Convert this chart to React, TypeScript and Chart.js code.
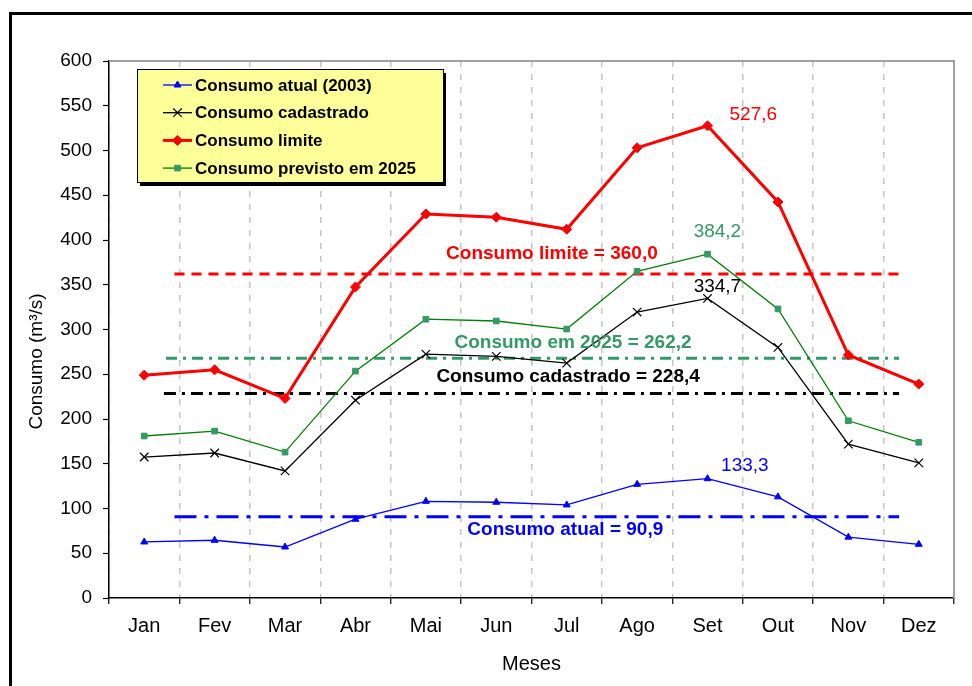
import React, { useEffect, useRef } from 'react';
import { Chart, registerables } from 'chart.js';
import { drawPoint } from 'chart.js/helpers';

Chart.register(...registerables);

// ---------- data ----------
const months = ['Jan', 'Fev', 'Mar', 'Abr', 'Mai', 'Jun', 'Jul', 'Ago', 'Set', 'Out', 'Nov', 'Dez'];
const consumoAtual = [62.6, 64.5, 57, 88, 108, 107, 104, 127, 133.3, 113, 68, 60];
const consumoCadastrado = [157.5, 162, 142, 221, 272.5, 270, 262.5, 319.5, 334.7, 280, 172, 151];
const consumoLimite = [249, 255, 223, 347.5, 429, 425.5, 412, 503, 527.6, 442.5, 271.5, 239];
const consumoPrevisto = [181, 186.5, 163, 253.5, 311.5, 309.5, 300.5, 365, 384.2, 323, 198, 174];

const seriesNames = ['Consumo atual (2003)', 'Consumo cadastrado', 'Consumo limite', 'Consumo previsto em 2025'];

// horizontal reference lines and their captions
const refLineValues = [362, 268, 228.4, 90.9];
const refLineCaptions = ['Consumo limite = 360,0', 'Consumo em 2025 = 262,2', 'Consumo cadastrado = 228,4', 'Consumo atual = 90,9'];

// peak value captions (September)
const peakCaptions = ['527,6', '384,2', '334,7', '133,3'];
const peakValues = [527.6, 384.2, 334.7, 133.3];

const yMin = 0;
const yMax = 600;
const yStep = 50;
const xTitle = 'Meses';
const yTitle = 'Consumo (m³/s)';

// ---------- styles / positions ----------
const FONT = "'Liberation Sans', Arial, Helvetica, sans-serif";
const refLineStyles = [
  { color: '#FF0000', dash: [10, 7], width: 3, from: 0.43, to: 10.72 },
  { color: '#339966', dash: [11, 6, 3, 6], width: 3, from: 0.31, to: 10.72 },
  { color: '#000000', dash: [12, 6, 3, 6], width: 3, from: 0.28, to: 10.72 },
  { color: '#0000FF', dash: [22, 8, 4, 8], width: 3, from: 0.43, to: 10.72 },
];
const refCaptionPos = [
  { x: 5.79, y: 385 },
  { x: 6.09, y: 285 },
  { x: 6.02, y: 247 },
  { x: 5.98, y: 76 },
];
const peakCaptionStyle = [
  { color: '#FF0000', x: 8.65, dy: 12 },
  { color: '#339966', x: 8.14, dy: 25 },
  { color: '#000000', x: 8.14, dy: 13 },
  { color: '#0000FF', x: 8.53, dy: 15 },
];

const framePlugin = {
  id: 'framePlugin',
  beforeDraw(chart: any) {
    const ctx = chart.ctx;
    ctx.save();
    ctx.fillStyle = '#fff';
    ctx.fillRect(0, 0, chart.width, chart.height);
    ctx.strokeStyle = '#000';
    ctx.lineWidth = 3;
    ctx.beginPath();
    ctx.moveTo(10.5, chart.height + 10);
    ctx.lineTo(10.5, 13.5);
    ctx.lineTo(chart.width + 10, 13.5);
    ctx.stroke();
    ctx.restore();
  },
  beforeDatasetsDraw(chart: any) {
    const { ctx, chartArea: a } = chart;
    ctx.save();
    ctx.strokeStyle = '#a0a0a0';
    ctx.lineWidth = 2;
    ctx.beginPath();
    ctx.moveTo(a.left, a.top);
    ctx.lineTo(a.right, a.top);
    ctx.lineTo(a.right, a.bottom);
    ctx.stroke();
    ctx.restore();
  },
  afterDraw(chart: any) {
    const { ctx, chartArea: a } = chart;
    ctx.save();
    ctx.translate(37, (a.top + a.bottom) / 2 + 32);
    ctx.rotate(-Math.PI / 2);
    ctx.font = `19px ${FONT}`;
    ctx.fillStyle = '#000';
    ctx.textAlign = 'center';
    ctx.textBaseline = 'middle';
    ctx.fillText(yTitle, 0, 0);
    ctx.restore();
  },
};

const refPlugin = {
  id: 'refPlugin',
  beforeDatasetsDraw(chart: any) {
    const { ctx, scales } = chart;
    const xs = scales.x;
    const ys = scales.y;
    ctx.save();
    refLineValues.forEach((v, i) => {
      const st = refLineStyles[i];
      const y = ys.getPixelForValue(v);
      ctx.strokeStyle = st.color;
      ctx.lineWidth = st.width;
      ctx.setLineDash(st.dash);
      ctx.beginPath();
      ctx.moveTo(xs.getPixelForValue(st.from), y);
      ctx.lineTo(xs.getPixelForValue(st.to), y);
      ctx.stroke();
    });
    ctx.restore();
  },
  afterDatasetsDraw(chart: any) {
    const { ctx, scales } = chart;
    const xs = scales.x;
    const ys = scales.y;
    ctx.save();
    ctx.textAlign = 'center';
    ctx.textBaseline = 'middle';
    ctx.font = `bold 19px ${FONT}`;
    refLineCaptions.forEach((t, i) => {
      const p = refCaptionPos[i];
      ctx.fillStyle = refLineStyles[i].color;
      ctx.fillText(t, xs.getPixelForValue(p.x), ys.getPixelForValue(p.y));
    });
    ctx.font = `19px ${FONT}`;
    peakCaptions.forEach((t, i) => {
      const st = peakCaptionStyle[i];
      ctx.fillStyle = st.color;
      ctx.fillText(t, xs.getPixelForValue(st.x), ys.getPixelForValue(peakValues[i] + st.dy));
    });
    ctx.restore();
  },
};

const legendPlugin = {
  id: 'boxLegend',
  afterDraw(chart: any) {
    const ctx = chart.ctx;
    const bx = 137, by = 69, bw = 306, bh = 113;
    ctx.save();
    ctx.fillStyle = '#000';
    ctx.fillRect(bx + 3, by + 4, bw, bh);
    ctx.fillStyle = '#FFFF99';
    ctx.fillRect(bx, by, bw, bh);
    ctx.strokeStyle = '#000';
    ctx.lineWidth = 1;
    ctx.strokeRect(bx + 0.5, by + 0.5, bw, bh);
    ctx.font = `bold 17px ${FONT}`;
    ctx.textBaseline = 'middle';
    ctx.textAlign = 'left';
    chart.data.datasets.forEach((ds: any, i: number) => {
      const y = by + 16 + i * 27.7;
      ctx.strokeStyle = ds.borderColor;
      ctx.lineWidth = ds.borderWidth;
      ctx.setLineDash([]);
      ctx.beginPath();
      ctx.moveTo(163, y);
      ctx.lineTo(192, y);
      ctx.stroke();
      ctx.fillStyle = ds.pointBackgroundColor;
      ctx.strokeStyle = ds.pointBorderColor;
      ctx.lineWidth = ds.pointBorderWidth;
      drawPoint(ctx, { pointStyle: ds.pointStyle, radius: ds.pointRadius, rotation: 0, borderWidth: ds.pointBorderWidth }, 177.5, y);
      ctx.fillStyle = '#000';
      ctx.fillText(seriesNames[i], 195, y + 1);
    });
    ctx.restore();
  },
};

export default function App() {
  const ref = useRef<HTMLCanvasElement>(null);

  useEffect(() => {
    const canvas = ref.current!;
    Chart.defaults.font.family = FONT;
    Chart.defaults.color = '#000';
    const chart = new Chart(canvas, {
      type: 'line',
      data: {
        labels: months,
        datasets: [
          {
            label: seriesNames[0],
            data: consumoAtual,
            borderColor: '#0000FF',
            borderWidth: 1.3,
            pointStyle: 'triangle',
            pointRadius: 4,
            pointBackgroundColor: '#0000FF',
            pointBorderColor: '#0000FF',
            pointBorderWidth: 1,
            tension: 0,
          },
          {
            label: seriesNames[1],
            data: consumoCadastrado,
            borderColor: '#000000',
            borderWidth: 1.3,
            pointStyle: 'crossRot',
            pointRadius: 6,
            pointBackgroundColor: '#000000',
            pointBorderColor: '#000000',
            pointBorderWidth: 1.2,
            tension: 0,
          },
          {
            label: seriesNames[2],
            data: consumoLimite,
            borderColor: '#FF0000',
            borderWidth: 3,
            pointStyle: 'rectRot',
            pointRadius: 5,
            pointBackgroundColor: '#FF0000',
            pointBorderColor: '#FF0000',
            pointBorderWidth: 1,
            tension: 0,
          },
          {
            label: seriesNames[3],
            data: consumoPrevisto,
            borderColor: '#008000',
            borderWidth: 1.3,
            pointStyle: 'rect',
            pointRadius: 4,
            pointBackgroundColor: '#339966',
            pointBorderColor: '#339966',
            pointBorderWidth: 1,
            tension: 0,
          },
        ],
      },
      options: {
        responsive: false,
        animation: false,
        devicePixelRatio: 1,
        layout: { padding: { top: 61, right: 18, left: 0, bottom: 0 } },
        plugins: { legend: { display: false }, tooltip: { enabled: false }, title: { display: false } },
        scales: {
          x: {
            offset: true,
            grid: {
              offset: true,
              color: '#c4c4c4',
              lineWidth: 1.5,
              drawTicks: true,
              tickLength: 6,
              tickColor: '#000',
              tickWidth: 1.2,
              tickBorderDash: [],
            },
            border: { display: true, color: '#000', width: 1.5, dash: [6, 7] },
            ticks: { font: { size: 20 }, color: '#000', padding: 10, maxRotation: 0 },
            title: { display: true, text: xTitle, font: { size: 20 }, color: '#000', padding: { top: 0, bottom: 10 } },
            afterFit(s: any) { s.height = 88; },
          },
          y: {
            min: yMin,
            max: yMax,
            grid: { drawOnChartArea: false, drawTicks: true, tickLength: 6, tickColor: '#000', tickWidth: 1.2 },
            border: { display: true, color: '#000', width: 1.5 },
            ticks: { stepSize: yStep, font: { size: 19 }, color: '#000', padding: 11 },
            title: { display: false },
            afterFit(s: any) { s.width = 109; },
          },
        },
      },
      plugins: [framePlugin, refPlugin, legendPlugin],
    } as any);
    return () => chart.destroy();
  }, []);

  return (
    <div style={{ position: 'fixed', left: 0, top: 0, width: 972, height: 686, overflow: 'hidden', background: '#fff' }}>
      <canvas ref={ref} width={972} height={686} style={{ display: 'block', width: 972, height: 686 }} />
    </div>
  );
}
